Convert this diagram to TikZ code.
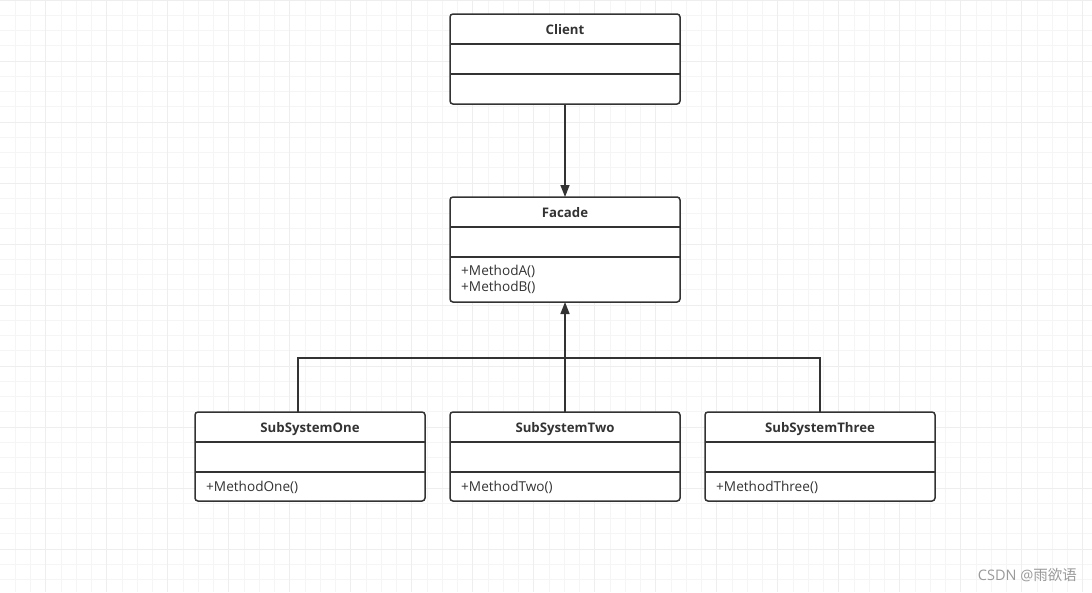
\documentclass[tikz,border=0pt]{standalone}
\usepackage{fontspec}
\setmainfont{Open Sans}
\newfontfamily\cjkfont{Noto Sans CJK SC}
\usetikzlibrary{arrows.meta}
\definecolor{umlgray}{HTML}{333333}
\definecolor{markgray}{HTML}{9A9A9A}

\begin{document}
\begin{tikzpicture}[x=1pt,y=-1pt,
    minorline/.style={draw=gray!8, line width=1pt},
    majorline/.style={draw=gray!13, line width=1pt},
    classbox/.style={rectangle, draw=umlgray, fill=white, line width=1.5pt, rounded corners=3pt, minimum width=230pt, inner sep=0pt, outer sep=0pt},
    divider/.style={draw=umlgray, line width=1.5pt},
    title/.style={font=\bfseries\fontsize{13.2}{15}\selectfont, text=umlgray, inner sep=0pt, text depth=0pt},
    member/.style={font=\fontsize{13.6}{16}\selectfont, text=umlgray, anchor=west, inner sep=0pt},
    link/.style={draw=umlgray, line width=1.5pt},
    arrow/.style={link, -{Triangle[length=12pt,width=9pt]}},
    watermark/.style={font=\fontsize{14.5}{17}\selectfont, text=markgray, anchor=east, inner sep=0pt},
]
% background and grid
\fill[white] (0,0) rectangle (1092,592);
\useasboundingbox (0,0) rectangle (1092,592);
\foreach \i in {1,...,71}
    \draw[minorline] (\i*15.25,0) -- (\i*15.25,592);
\foreach \j in {1,...,38}
    \draw[minorline] (0,\j*15.25) -- (1092,\j*15.25);
\foreach \x in {45.75,106.75,...,1083}
    \draw[majorline] (\x,0) -- (\x,592);
\foreach \y in {0,61,...,549}
    \draw[majorline] (0,\y) -- (1092,\y);

% class boxes
\node[classbox, minimum height=90pt] (client) at (565,59) {};
\node[classbox, minimum height=105pt] (facade) at (565,249.5) {};
\node[classbox, minimum height=89pt] (sub1) at (310,456.5) {};
\node[classbox, minimum height=89pt] (sub2) at (565,456.5) {};
\node[classbox, minimum height=89pt] (sub3) at (820,456.5) {};

% compartments
\draw[divider] (450,44) -- (680,44);
\draw[divider] (450,74) -- (680,74);
\draw[divider] (450,227) -- (680,227);
\draw[divider] (450,257) -- (680,257);
\foreach \x in {195,450,705} {
    \draw[divider] (\x,442) -- (\x+230,442);
    \draw[divider] (\x,472) -- (\x+230,472);
}

% names and members
\node[title] (clientname) at (565,29.5) {Client};
\node[title] (facadename) at (565,212.5) {Facade};
\node[member] (methoda) at (461,271.5) {+MethodA()};
\node[member] (methodb) at (461,287.5) {+MethodB()};
\node[title] (sub1name) at (310,427.5) {SubSystemOne};
\node[title] (sub2name) at (565,427.5) {SubSystemTwo};
\node[title] (sub3name) at (820,427.5) {SubSystemThree};
\node[member] (methodone) at (206,487.5) {+MethodOne()};
\node[member] (methodtwo) at (461,487.5) {+MethodTwo()};
\node[member] (methodthree) at (716,487.5) {+MethodThree()};

% connectors
\draw[arrow] (client) -- (facade);
\coordinate (bus) at (565,358);
\draw[link] ([xshift=-12pt]sub1.north) |- (bus);
\draw[link] (sub3.north) |- (bus);
\draw[arrow] (sub2) -- (facade);

\node[watermark] (mark) at (1077,575) {CSDN @{\cjkfont 雨欲语}};
\end{tikzpicture}
\end{document}
